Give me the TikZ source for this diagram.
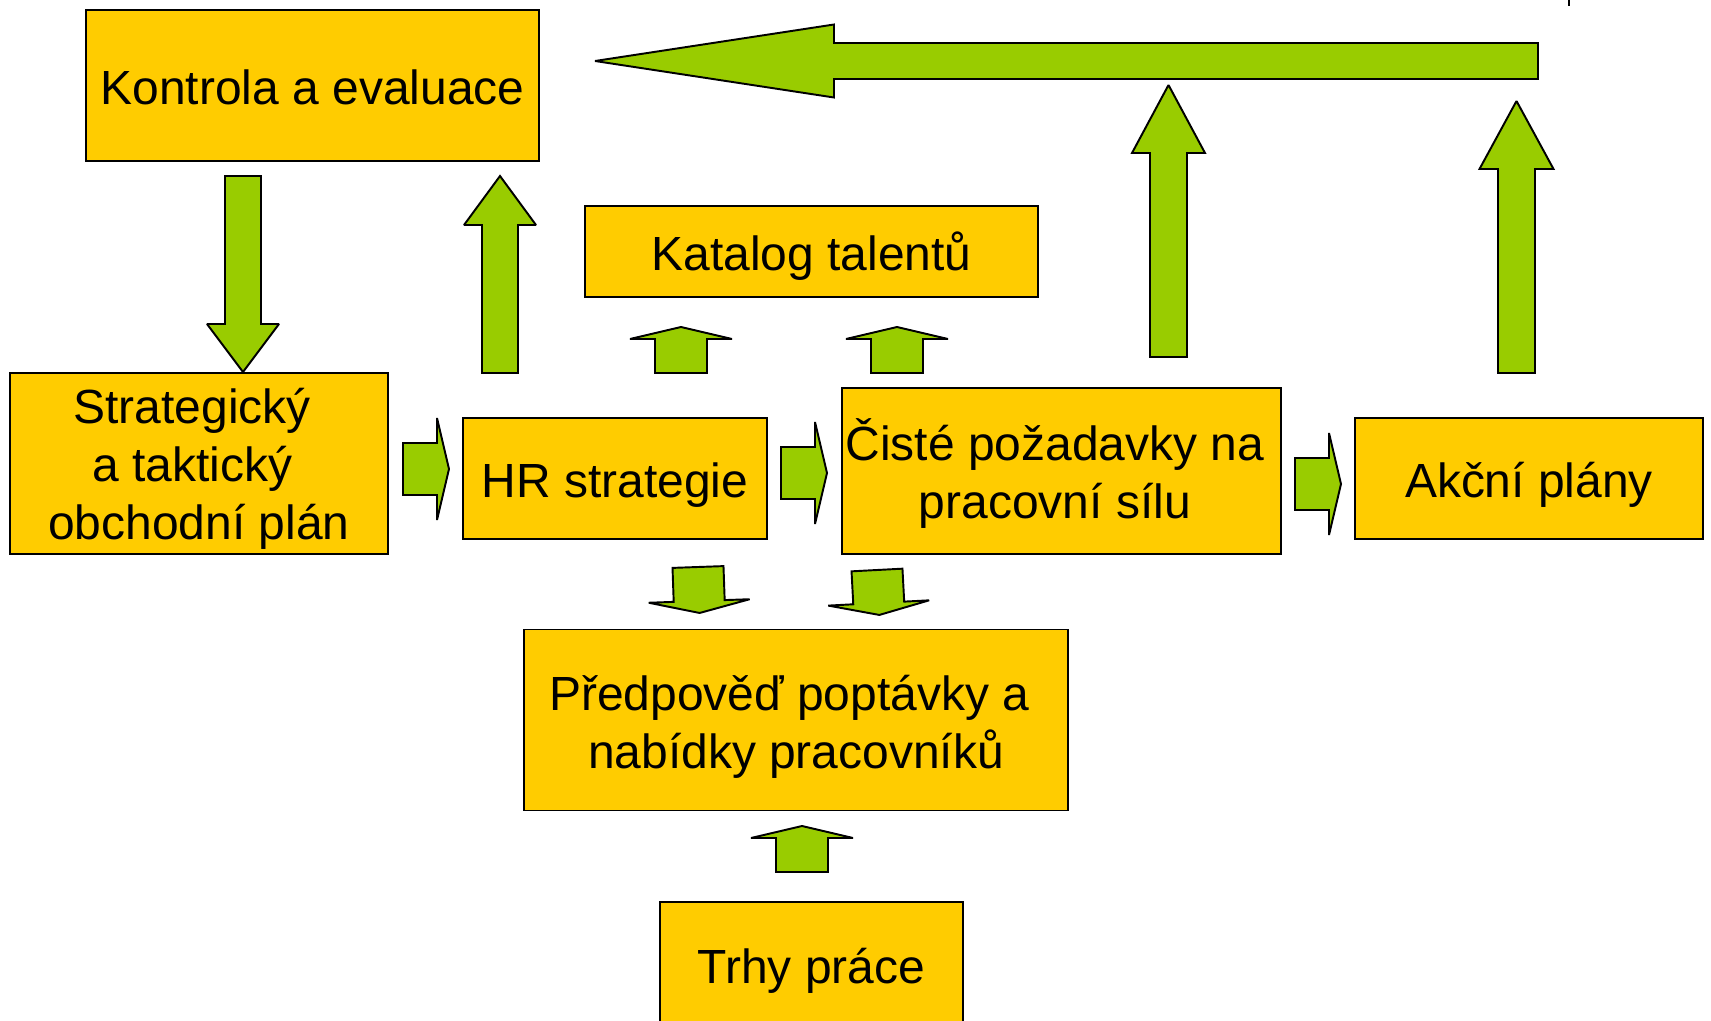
\documentclass[tikz,border=0pt]{standalone}
\usepackage{fontspec}
\setmainfont{Liberation Sans}
\usepackage{tikz}
\definecolor{boxyellow}{HTML}{FFCC00}
\definecolor{arrowgreen}{HTML}{99CC00}
\tikzset{
  box/.style={draw=black,fill=boxyellow,line width=1.1pt,inner sep=0pt,align=center,
    font=\fontsize{27.3}{33}\selectfont,
    execute at begin node={\rule{0pt}{1.05em}},
    execute at end node={\rule[-0.25em]{0pt}{0.25em}}},
  garrow/.style={draw=black,fill=arrowgreen,line width=1.1pt,line join=miter,miter limit=2}
}
% tail, angle, length, half body, half head, head length
\newcommand{\blockarrow}[6]{%
  \draw[garrow,shift={(#1)},rotate=#2] (0,-#4) -- (#3-#6,-#4) -- (#3-#6,-#5) -- (#3,0)
    -- (#3-#6,#5) -- (#3-#6,#4) -- (0,#4) -- cycle;}
\newcommand{\trailsp}{\kern0.28em}
\newcommand{\topstrut}[1]{\rule{0pt}{#1}}

\begin{document}
\begin{tikzpicture}[x=0.02cm,y=-0.02cm]
\useasboundingbox (0,0) rectangle (1711,1021);
\clip (0,0) rectangle (1711,1021);
\node[box,minimum width=9.06cm,minimum height=3.02cm] (kontrola) at (312.5,85.5) {Kontrola a evaluace};
\node[box,minimum width=9.06cm,minimum height=1.82cm] (katalog) at (811.5,251.5) {Katalog talentů};
\node[box,minimum width=7.56cm,minimum height=3.62cm] (plan) at (199,463.5) {\topstrut{1.0em}Strategický\trailsp\\a taktický\trailsp\\obchodní plán};
\node[box,minimum width=6.08cm,minimum height=2.42cm] (hr) at (615,478.5) {HR strategie};
\node[box,minimum width=8.78cm,minimum height=3.32cm] (ciste) at (1061.5,471) {\topstrut{1.04em}Čisté požadavky na\trailsp\\pracovní sílu\trailsp};
\node[box,minimum width=6.96cm,minimum height=2.42cm] (akcni) at (1529,478.5) {Akční plány};
\node[box,minimum width=10.88cm,minimum height=3.62cm] (predpoved) at (796,720) {\topstrut{1.05em}Předpověď poptávky a\trailsp\\nabídky pracovníků};
\node[box,minimum width=6.06cm,minimum height=2.5cm] (trhy) at (811.5,964.5) {Trhy práce};

\blockarrow{1538,61}{180}{943}{18}{36.5}{239}
\blockarrow{243,176}{-90}{196}{18}{36}{48}
\blockarrow{500,373}{90}{197}{18}{36}{49}
\blockarrow{1168.5,357}{90}{272}{18.5}{36.5}{68}
\blockarrow{1516.5,373}{90}{272}{18.5}{37}{68}
\blockarrow{681,373}{90}{46}{26}{51}{12}
\blockarrow{897,373}{90}{46}{26}{51}{12}
\blockarrow{403,469}{0}{46}{26}{51}{12}
\blockarrow{781,473}{0}{46}{26}{51}{12}
\blockarrow{1295,484}{0}{46}{26}{51}{12}
\blockarrow{698,567}{-88}{46}{25.5}{50.5}{12}
\blockarrow{877,570}{-87}{45}{25.5}{50.5}{12}
\blockarrow{802,872}{90}{46}{26}{51}{12}

\draw[line width=0.8pt] (1569,0) -- (1569,6);
\end{tikzpicture}
\end{document}
